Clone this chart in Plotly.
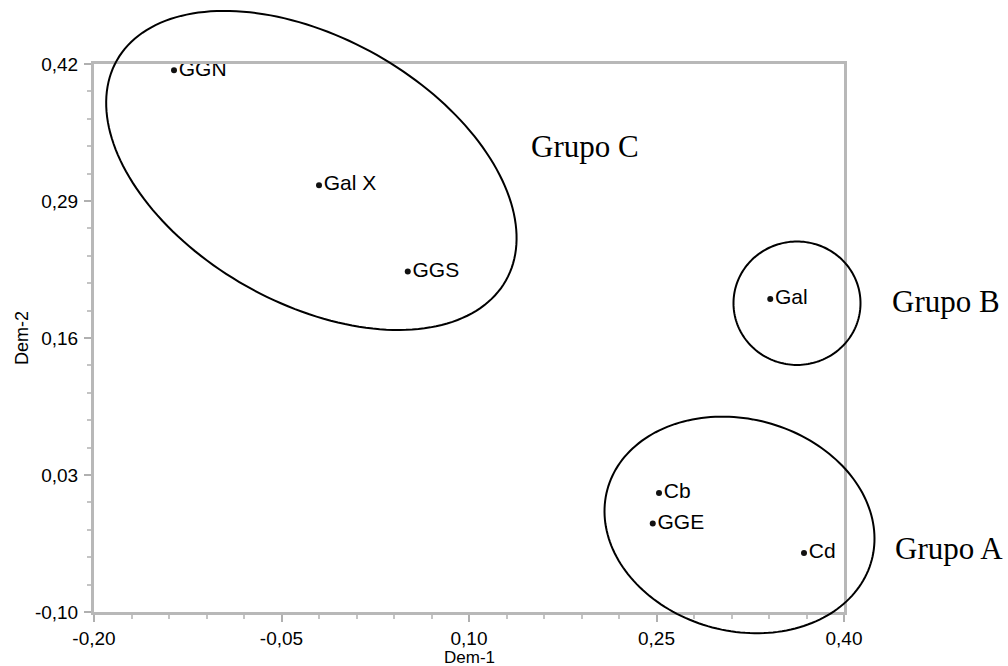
import numpy as np
import plotly.graph_objects as go

# ---------------- data ----------------
labels = ["GGN", "Gal X", "GGS", "Gal", "Cb", "GGE", "Cd"]
dem1 = [-0.136, -0.020, 0.051, 0.341, 0.252, 0.247, 0.368]
dem2 = [0.414, 0.305, 0.223, 0.197, 0.013, -0.016, -0.044]

x_tickvals = [-0.20, -0.05, 0.10, 0.25, 0.40]
x_ticktext = ["-0,20", "-0,05", "0,10", "0,25", "0,40"]
y_tickvals = [-0.10, 0.03, 0.16, 0.29, 0.42]
y_ticktext = ["-0,10", "0,03", "0,16", "0,29", "0,42"]

group_names = ["Grupo A", "Grupo B", "Grupo C"]
group_label_x = [0.4388, 0.4365, 0.1476]
group_label_y = [-0.0401, 0.1951, 0.342]

# ellipse geometry: centre (data units), semi-axes (px), rotation (deg, clockwise on screen)
ell_cx = [0.3164, 0.3624, -0.0261]
ell_cy = [-0.0174, 0.193, 0.319]
ell_a = [136.8, 63.5, 223.5]
ell_b = [106.0, 61.7, 132.7]
ell_rot = [14.85, 0.0, 29.5]

# ---------------- layout geometry ----------------
W, H = 1008, 666
L, R, T, B = 94, 164, 64, 54
pw, ph = W - L - R, H - T - B
xr = [-0.20, 0.40]
yr = [-0.10, 0.42]

def to_paper_x(v):
    return (v - xr[0]) / (xr[1] - xr[0])

def to_paper_y(v):
    return (v - yr[0]) / (yr[1] - yr[0])

def ellipse_path(cx, cy, a, b, rot):
    th = np.deg2rad(rot)
    t = np.linspace(0, 2 * np.pi, 181)
    dx = a * np.cos(t) * np.cos(th) - b * np.sin(t) * np.sin(th)
    dy = a * np.cos(t) * np.sin(th) + b * np.sin(t) * np.cos(th)
    xs = to_paper_x(cx) + dx / pw
    ys = to_paper_y(cy) - dy / ph
    pts = [f"{x:.5f},{y:.5f}" for x, y in zip(xs, ys)]
    return "M" + " L".join(pts) + " Z"

fig = go.Figure()
fig.add_trace(go.Scatter(
    x=dem1, y=dem2, mode="markers+text", text=labels,
    textposition="middle right",
    textfont=dict(family="Liberation Sans, Arial", size=21, color="black"),
    marker=dict(size=6, color="#111111"),
    cliponaxis=False, showlegend=False, hoverinfo="skip",
))

shapes = []
for cx, cy, a, b, r in zip(ell_cx, ell_cy, ell_a, ell_b, ell_rot):
    shapes.append(dict(type="path", xref="paper", yref="paper",
                       path=ellipse_path(cx, cy, a, b, r),
                       line=dict(color="black", width=2), fillcolor="rgba(0,0,0,0)",
                       layer="above"))

annotations = []
for name, gx, gy in zip(group_names, group_label_x, group_label_y):
    annotations.append(dict(x=to_paper_x(gx), y=to_paper_y(gy), xref="paper", yref="paper",
                            text=name, showarrow=False, xanchor="left", yanchor="middle",
                            font=dict(family="Liberation Serif, Times New Roman", size=31, color="black")))
annotations.append(dict(x=0.5, y=-(657 - (T + ph)) / ph, xref="paper", yref="paper",
                        text="Dem-1", showarrow=False, xanchor="center", yanchor="middle",
                        font=dict(family="Liberation Sans, Arial", size=17, color="black")))
annotations.append(dict(x=-(L - 22) / pw, y=0.5, xref="paper", yref="paper",
                        text="Dem-2", showarrow=False, xanchor="center", yanchor="middle",
                        textangle=-90,
                        font=dict(family="Liberation Sans, Arial", size=18, color="black")))

axis_common = dict(
    showline=True, linecolor="#b8b8b8", linewidth=3, mirror=True,
    ticks="outside", ticklen=7, tickwidth=2, tickcolor="#b0b0b0",
    showgrid=False, zeroline=False,
    tickfont=dict(family="Liberation Sans, Arial", size=19, color="black"),
)

fig.update_layout(
    width=W, height=H,
    margin=dict(l=L, r=R, t=T, b=B, autoexpand=False),
    paper_bgcolor="white", plot_bgcolor="white",
    xaxis=dict(range=xr, tickmode="array", tickvals=x_tickvals, ticktext=x_ticktext,
               minor=dict(tickmode="array", tickvals=list(np.round(np.arange(-0.20, 0.4001, 0.03), 3)),
                          ticks="outside", ticklen=4, tickwidth=2, tickcolor="#c4c4c4"),
               **axis_common),
    yaxis=dict(range=yr, tickmode="array", tickvals=y_tickvals, ticktext=y_ticktext,
               ticklabelstandoff=2,
               minor=dict(tickmode="array", tickvals=list(np.round(np.arange(-0.10, 0.4201, 0.026), 3)),
                          ticks="outside", ticklen=4, tickwidth=2, tickcolor="#c4c4c4"),
               **axis_common),
    shapes=shapes, annotations=annotations,
)

fig.write_html("out.html")
